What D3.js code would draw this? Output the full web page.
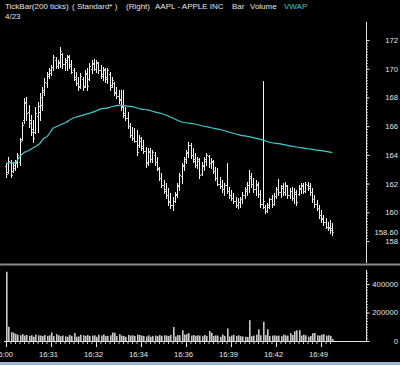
<!DOCTYPE html>
<html><head><meta charset="utf-8">
<script src="https://cdn.jsdelivr.net/npm/d3@7"></script>
<style>body{margin:0;background:#000;overflow:hidden}svg{display:block}text{font-family:"Liberation Sans",Arial,sans-serif}</style>
</head><body>
<script>
const hi = [163.43,163.85,163.64,163.50,163.64,164.13,165.18,166.29,167.96,168.03,
167.47,166.78,166.43,167.33,167.68,168.31,168.73,169.35,169.77,170.05,
170.26,170.96,170.82,170.61,171.51,171.09,170.75,170.96,170.96,170.61,
170.05,169.77,169.42,169.70,169.42,169.91,170.05,170.40,170.61,170.68,
170.61,170.47,170.26,170.12,170.05,170.05,169.77,169.42,169.08,168.73,
168.52,168.52,168.52,167.33,166.99,166.22,165.94,165.87,165.73,165.38,
165.24,165.04,164.55,164.48,164.48,164.34,164.20,163.85,163.16,162.74,
162.25,162.04,161.69,161.35,161.07,161.41,162.04,162.74,163.43,163.85,
164.34,164.90,164.83,164.48,164.13,163.85,163.78,163.50,163.85,164.13,
163.99,163.78,163.64,163.16,163.09,162.46,162.25,162.04,163.43,161.76,
161.55,161.35,161.07,161.00,161.07,161.41,161.76,162.11,162.95,162.74,
162.39,162.25,162.11,161.55,169.14,160.51,160.65,161.00,161.21,161.35,
161.76,162.32,161.90,162.04,162.11,161.90,161.69,161.76,161.69,161.55,
161.90,162.04,162.04,162.11,162.11,162.04,161.69,161.21,160.86,160.51,
160.16,159.81,159.60,159.33,159.46,159.26];
const lo = [162.46,162.74,162.46,162.81,162.95,163.16,163.29,165.04,166.22,166.43,
165.94,165.38,164.90,165.52,165.59,166.43,167.13,168.17,168.73,169.35,
169.56,169.91,170.05,170.05,170.12,170.05,169.91,169.91,170.05,169.70,
169.21,168.87,168.52,168.66,168.52,168.73,168.52,169.21,169.70,169.91,
169.77,169.70,169.35,169.21,169.08,169.01,168.52,168.73,168.17,167.96,
167.61,167.13,166.64,166.43,165.87,165.24,165.04,164.90,163.99,164.55,
164.34,164.13,163.16,163.29,163.50,163.50,163.29,162.95,162.25,161.76,
161.35,161.00,160.51,160.30,160.16,160.72,161.07,161.55,162.04,162.95,
163.43,163.85,163.78,163.50,163.16,163.09,162.39,162.60,162.95,163.29,
163.16,163.09,162.74,162.25,161.90,161.69,161.41,161.21,161.35,161.00,
160.86,160.65,160.37,160.30,160.37,160.65,161.00,161.21,161.41,161.76,
161.41,161.21,161.07,160.37,160.30,159.95,160.02,160.30,160.37,160.51,
161.00,161.21,161.07,161.21,161.21,161.00,161.00,160.86,160.65,160.51,
161.21,161.35,161.35,161.41,161.55,161.21,160.72,160.37,160.16,159.60,
159.33,159.12,158.91,158.77,158.56,158.42];
const op = [163.2,162.8,163.5,162.9,163.1,163.4,163.5,165.1,166.4,167.6,
167.0,166.4,165.8,165.6,166.7,167.0,167.5,168.4,169.0,169.5,
169.7,170.1,170.6,170.2,170.4,171.0,170.3,170.5,170.8,170.3,
169.9,169.4,169.0,168.8,169.3,168.8,169.6,169.3,170.0,170.3,
170.0,170.4,169.9,169.6,169.9,169.4,169.6,168.9,169.0,168.4,
168.1,167.9,167.4,166.9,166.6,166.0,165.4,165.2,165.0,164.7,
165.0,164.6,164.3,163.5,164.2,163.7,164.0,163.5,163.0,162.4,
161.9,161.6,161.2,160.8,160.5,160.8,161.2,161.8,162.5,163.2,
163.6,164.1,164.7,164.0,163.7,163.3,163.6,162.7,163.2,163.6,
163.9,163.4,163.5,162.9,162.4,162.0,161.8,161.6,161.9,161.5,
161.2,161.0,160.8,160.5,160.7,160.9,161.2,161.5,161.9,162.4,
162.0,161.6,161.9,161.3,160.6,160.4,160.1,160.4,160.9,160.6,
161.1,161.6,161.4,161.7,161.4,161.8,161.2,161.5,161.0,161.3,
161.3,161.6,161.8,161.5,161.9,161.8,161.4,160.9,160.6,160.3,
159.8,159.6,159.3,159.0,159.0,158.9];
const cl = [162.7,163.6,162.6,163.3,163.5,164.0,165.0,166.1,167.7,166.9,
166.2,165.6,165.2,166.9,167.4,168.0,168.5,169.1,169.6,169.9,
170.1,170.8,170.2,170.5,171.2,170.3,170.6,170.9,170.2,169.8,
169.3,169.0,168.7,169.5,168.7,169.7,168.8,170.2,170.4,170.0,
170.5,169.9,169.5,170.0,169.3,169.9,168.7,169.2,168.3,168.1,
167.8,167.3,166.8,166.6,166.0,165.4,165.2,165.0,164.2,165.2,
164.5,164.3,163.4,164.3,163.7,164.2,163.5,163.1,162.4,161.9,
161.5,161.2,160.7,160.5,160.8,161.3,161.9,162.6,163.3,163.7,
164.2,164.7,164.0,163.6,163.3,163.7,162.6,163.3,163.7,164.0,
163.4,163.6,162.9,162.4,162.0,161.8,161.6,161.9,161.5,161.2,
161.0,160.8,160.5,160.7,160.9,161.2,161.6,161.9,162.5,162.0,
161.6,162.0,161.3,160.6,160.8,160.1,160.5,160.9,160.6,161.1,
161.6,161.4,161.8,161.4,161.9,161.2,161.5,161.0,161.4,160.7,
161.7,161.9,161.5,162.0,161.7,161.4,160.9,160.6,160.3,159.8,
159.5,159.3,159.0,158.9,158.8,158.6];
const vol = [486000,100000,62000,58000,50000,44000,40000,48000,38000,42000,
36000,40000,30000,45000,40000,38000,35000,42000,36000,40000,
60000,35000,48000,40000,34000,38000,33000,30000,42000,36000,
56000,30000,32000,44000,40000,36000,42000,35000,38000,40000,
30000,44000,38000,46000,36000,36000,40000,60000,58000,35000,
48000,38000,36000,30000,42000,38000,40000,35000,45000,42000,
38000,36000,32000,40000,30000,36000,38000,34000,42000,36000,
40000,38000,35000,42000,98000,32000,42000,40000,75000,45000,
48000,55000,38000,42000,36000,40000,38000,34000,42000,36000,
70000,58000,35000,40000,38000,30000,45000,36000,88000,32000,
38000,44000,36000,40000,34000,32000,30000,28000,146000,34000,
38000,45000,82000,40000,135000,42000,82000,35000,38000,40000,
36000,38000,34000,45000,40000,38000,55000,42000,68000,75000,
76000,38000,45000,40000,30000,36000,55000,56000,40000,38000,
44000,48000,38000,40000,36000,15000];
const vwapBar = [0,4,6,8,9,12,13,15,17,18,20,21,22,24,27,29,31,33,36,39,42,45,48,51,54,57,60,63,66,69,72,75,78,81,84,87,91,96,100,104,108,114,117,122,126,131,135,140,145];
const vwapVal = [163.41,163.45,163.85,164.17,164.22,164.48,164.57,164.79,165.18,165.24,165.66,165.87,165.94,166.08,166.29,166.50,166.62,166.71,166.85,166.99,167.19,167.26,167.40,167.47,167.40,167.33,167.19,167.13,166.99,166.88,166.71,166.50,166.29,166.22,166.15,166.03,165.89,165.73,165.54,165.38,165.27,165.04,164.88,164.76,164.62,164.50,164.41,164.29,164.15];
const priceTicks = [158,160,162,164,166,168,170,172];
const lastPrice = 158.60;
const volTicks = [0,200000,400000];
const timeTickBars = [0,20,40,60,80,100,120,140];
const timeLabels = ["16:00","16:31","16:32","16:34","16:36","16:39","16:42","16:49"];
const titleParts = ["TickBar(200 ticks)","( Standard* )","(Right)","AAPL - APPLE INC","Bar","Volume","VWAP"];

const W=400,H=365;
const svg=d3.select("body").append("svg").attr("width",W).attr("height",H);
svg.append("rect").attr("width",W).attr("height",H).attr("fill","#000");

const n=hi.length;
const x=d3.scaleLinear().domain([0,n-1]).range([6,332.25]);
const yP=d3.scaleLinear().domain([158,172]).range([241,40]);
const yV=d3.scaleLinear().domain([0,400000]).range([341,284]);
const px=i=>Math.round(x(i))+0.5;
const FG="#e4e4e4";

// title
const tx=[5,72,126,155,232,250,284];
const tcol=[FG,FG,FG,FG,FG,FG,"#44c8c8"];
svg.append("g").selectAll("text").data(titleParts).join("text")
 .attr("x",(d,i)=>tx[i]).attr("y",8.5).attr("font-size",8).attr("fill",(d,i)=>tcol[i]).text(d=>d);
svg.append("text").attr("x",5).attr("y",19).attr("font-size",8).attr("fill",FG).text("4/23");

// pane separator
svg.append("rect").attr("x",0).attr("y",263.5).attr("width",W).attr("height",2).attr("fill","#8a8a8a");

// OHLC bars
const gb=svg.append("g");
const idx=d3.range(n);
gb.selectAll("line.hl").data(idx).join("line").attr("class","hl")
 .attr("x1",px).attr("x2",px).attr("y1",i=>yP(hi[i])).attr("y2",i=>yP(lo[i])+1)
 .attr("stroke","#f4f4f4").attr("stroke-width",1);
gb.selectAll("line.o").data(idx).join("line").attr("class","o")
 .attr("x1",i=>px(i)-1.5).attr("x2",i=>px(i)).attr("y1",i=>Math.round(yP(op[i]))+0.5).attr("y2",i=>Math.round(yP(op[i]))+0.5)
 .attr("stroke","#c4c4c4").attr("stroke-width",1);
gb.selectAll("line.c").data(idx).join("line").attr("class","c")
 .attr("x1",i=>px(i)).attr("x2",i=>px(i)+1.5).attr("y1",i=>Math.round(yP(cl[i]))+0.5).attr("y2",i=>Math.round(yP(cl[i]))+0.5)
 .attr("stroke","#c4c4c4").attr("stroke-width",1);

// VWAP
svg.append("path").datum(vwapBar.map((b,k)=>[x(b),yP(vwapVal[k])]))
 .attr("d",d3.line().curve(d3.curveMonotoneX)).attr("fill","none").attr("stroke","#44c8c8").attr("stroke-width",1.2);

// price axis
const axX=366.5;
svg.append("line").attr("x1",axX).attr("x2",axX).attr("y1",22).attr("y2",263).attr("stroke",FG);
const gpm=svg.append("g").attr("transform",`translate(${axX},0)`)
 .call(d3.axisRight(yP).tickValues(d3.range(0,71).map(k=>158+k*0.2)).tickSize(1.5).tickFormat(""));
gpm.select(".domain").remove(); gpm.selectAll("line").attr("stroke","#bbb");
const gp=svg.append("g").attr("transform",`translate(${axX},0)`)
 .call(d3.axisRight(yP).tickValues(priceTicks).tickSize(3).tickFormat(d3.format("d")));
gp.select(".domain").remove();
gp.selectAll("line").attr("stroke",FG);
gp.selectAll("text").attr("text-anchor","end").attr("x",31.5).attr("font-size",7.7).attr("fill",FG).attr("font-family","Liberation Sans,Arial,sans-serif");
svg.append("text").attr("x",398).attr("y",yP(lastPrice)).attr("dy","0.35em").attr("text-anchor","end")
 .attr("font-size",7.7).attr("fill",FG).text(d3.format(".2f")(lastPrice));

// volume bars
svg.append("g").selectAll("rect").data(idx).join("rect")
 .attr("x",i=>Math.round(x(i))).attr("width",1.6).attr("y",i=>yV(vol[i])).attr("height",i=>yV(0)-yV(vol[i]))
 .attr("fill","#c8c8c8");

// volume axis
svg.append("line").attr("x1",axX).attr("x2",axX).attr("y1",270).attr("y2",341).attr("stroke",FG);
const gvm=svg.append("g").attr("transform",`translate(${axX},0)`)
 .call(d3.axisRight(yV).tickValues(d3.range(0,25).map(k=>k*20000)).tickSize(1.5).tickFormat(""));
gvm.select(".domain").remove(); gvm.selectAll("line").attr("stroke","#bbb");
const gv=svg.append("g").attr("transform",`translate(${axX},0)`)
 .call(d3.axisRight(yV).tickValues(volTicks).tickSize(3).tickFormat(d3.format("d")));
gv.select(".domain").remove();
gv.selectAll("line").attr("stroke",FG);
gv.selectAll("text").attr("text-anchor","end").attr("x",31.5).attr("font-size",7.7).attr("fill",FG).attr("font-family","Liberation Sans,Arial,sans-serif");

// time axis
svg.append("line").attr("x1",4).attr("x2",368).attr("y1",341.5).attr("y2",341.5).attr("stroke",FG);
const gtm=svg.append("g").attr("transform","translate(0,341)")
 .call(d3.axisBottom(x).tickValues(d3.range(0,n,2)).tickSize(3).tickFormat(""));
gtm.select(".domain").remove(); gtm.selectAll("line").attr("stroke","#ccc");
const gt=svg.append("g").attr("transform","translate(0,341)")
 .call(d3.axisBottom(x).tickValues(timeTickBars).tickSize(6).tickFormat((d,i)=>timeLabels[i]));
gt.select(".domain").remove();
gt.selectAll("line").attr("stroke",FG);
gt.selectAll("text").attr("x",-3).attr("y",11).attr("font-size",7.7).attr("fill",FG).attr("font-family","Liberation Sans,Arial,sans-serif");

// window edge strip
svg.append("rect").attr("x",0).attr("y",362).attr("width",W).attr("height",3).attr("fill","#9fb3cc");
</script>
</body></html>
